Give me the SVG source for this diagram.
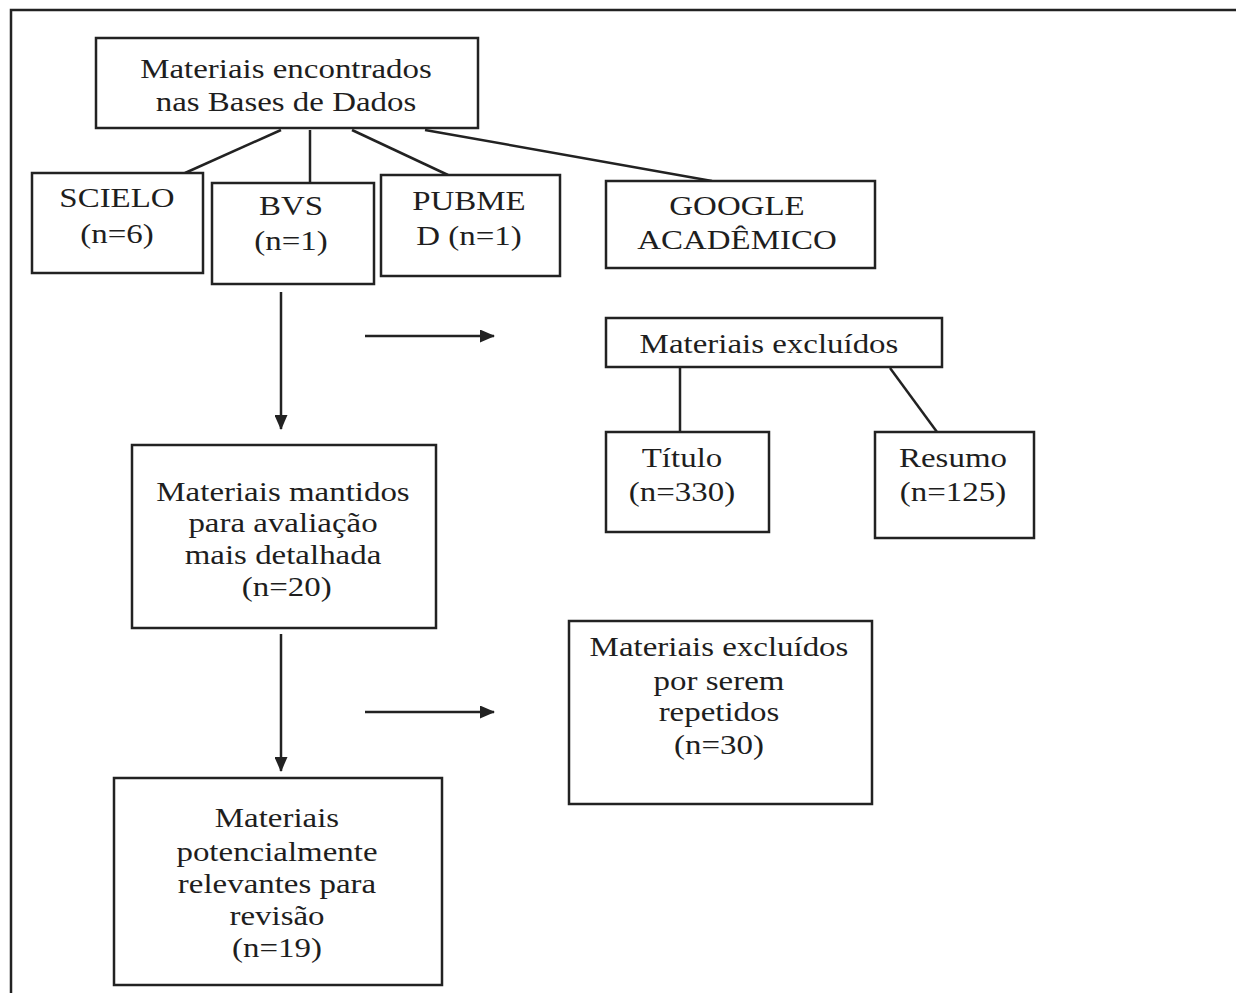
<svg xmlns="http://www.w3.org/2000/svg" width="1236" height="993" viewBox="0 0 1236 993">
<defs>
<style>
.box{fill:#fff;stroke:#222;stroke-width:2.5}
.ln{stroke:#222;stroke-width:2.5;fill:none}
.t{font-family:'Liberation Serif','DejaVu Serif',serif;font-size:27px;fill:#1e1e1e;text-anchor:middle}
</style>
<marker id="ah" viewBox="0 0 15 13" refX="14" refY="6.5" markerWidth="15" markerHeight="13" orient="auto" markerUnits="userSpaceOnUse">
<path d="M0,0 L15,6.5 L0,13 Z" fill="#222"/>
</marker>
</defs>
<rect width="1236" height="993" fill="#fff"/>
<path d="M11,1000 V10 H1240" class="ln"/>
<g id="connectors">
<line class="ln" x1="281" y1="130" x2="185" y2="173"/>
<line class="ln" x1="310" y1="130" x2="310" y2="183"/>
<line class="ln" x1="352" y1="130" x2="448" y2="175"/>
<line class="ln" x1="425" y1="130" x2="712" y2="181"/>
<line class="ln" x1="281" y1="292" x2="281" y2="429" marker-end="url(#ah)"/>
<line class="ln" x1="365" y1="336" x2="494" y2="336" marker-end="url(#ah)"/>
<line class="ln" x1="680" y1="367" x2="680" y2="432"/>
<line class="ln" x1="890" y1="368" x2="937" y2="432"/>
<line class="ln" x1="281" y1="634" x2="281" y2="771" marker-end="url(#ah)"/>
<line class="ln" x1="365" y1="712" x2="494" y2="712" marker-end="url(#ah)"/>
</g>
<g id="n-bases" class="t"><rect class="box" x="96" y="38" width="382" height="90"/>
<g transform="translate(286 0) scale(1.22 1)"><text x="0" y="78">Materiais encontrados</text><text x="0" y="111">nas Bases de Dados</text></g></g>
<g id="n-scielo" class="t"><rect class="box" x="32" y="173" width="171" height="100"/>
<g transform="translate(117 0) scale(1.22 1)"><text x="0" y="207">SCIELO</text><text x="0" y="243">(n=6)</text></g></g>
<g id="n-bvs" class="t"><rect class="box" x="212" y="183" width="162" height="101"/>
<g transform="translate(291 0) scale(1.22 1)"><text x="0" y="215">BVS</text><text x="0" y="250">(n=1)</text></g></g>
<g id="n-pubmed" class="t"><rect class="box" x="381" y="175" width="179" height="101"/>
<g transform="translate(469 0) scale(1.22 1)"><text x="0" y="210">PUBME</text><text x="0" y="245">D (n=1)</text></g></g>
<g id="n-google" class="t"><rect class="box" x="606" y="181" width="269" height="87"/>
<g transform="translate(737 0) scale(1.22 1)"><text x="0" y="215">GOOGLE</text><text x="0" y="249">ACADÊMICO</text></g></g>
<g id="n-excluidos" class="t"><rect class="box" x="606" y="318" width="336" height="49"/>
<g transform="translate(769 0) scale(1.22 1)"><text x="0" y="353">Materiais excluídos</text></g></g>
<g id="n-titulo" class="t"><rect class="box" x="606" y="432" width="163" height="100"/>
<g transform="translate(682 0) scale(1.22 1)"><text x="0" y="467">Título</text><text x="0" y="501">(n=330)</text></g></g>
<g id="n-resumo" class="t"><rect class="box" x="875" y="432" width="159" height="106"/>
<g transform="translate(953 0) scale(1.22 1)"><text x="0" y="467">Resumo</text><text x="0" y="501">(n=125)</text></g></g>
<g id="n-mantidos" class="t"><rect class="box" x="132" y="445" width="304" height="183"/>
<g transform="translate(283 0) scale(1.22 1)"><text x="0" y="501">Materiais mantidos</text><text x="0" y="532">para avaliação</text><text x="0" y="564">mais detalhada</text><text x="3" y="596">(n=20)</text></g></g>
<g id="n-repetidos" class="t"><rect class="box" x="569" y="621" width="303" height="183"/>
<g transform="translate(719 0) scale(1.22 1)"><text x="0" y="656">Materiais excluídos</text><text x="0" y="690">por serem</text><text x="0" y="721">repetidos</text><text x="0" y="754">(n=30)</text></g></g>
<g id="n-relevantes" class="t"><rect class="box" x="114" y="778" width="328" height="207"/>
<g transform="translate(277 0) scale(1.22 1)"><text x="0" y="827">Materiais</text><text x="0" y="861">potencialmente</text><text x="0" y="893">relevantes para</text><text x="0" y="925">revisão</text><text x="0" y="957">(n=19)</text></g></g>
</svg>
